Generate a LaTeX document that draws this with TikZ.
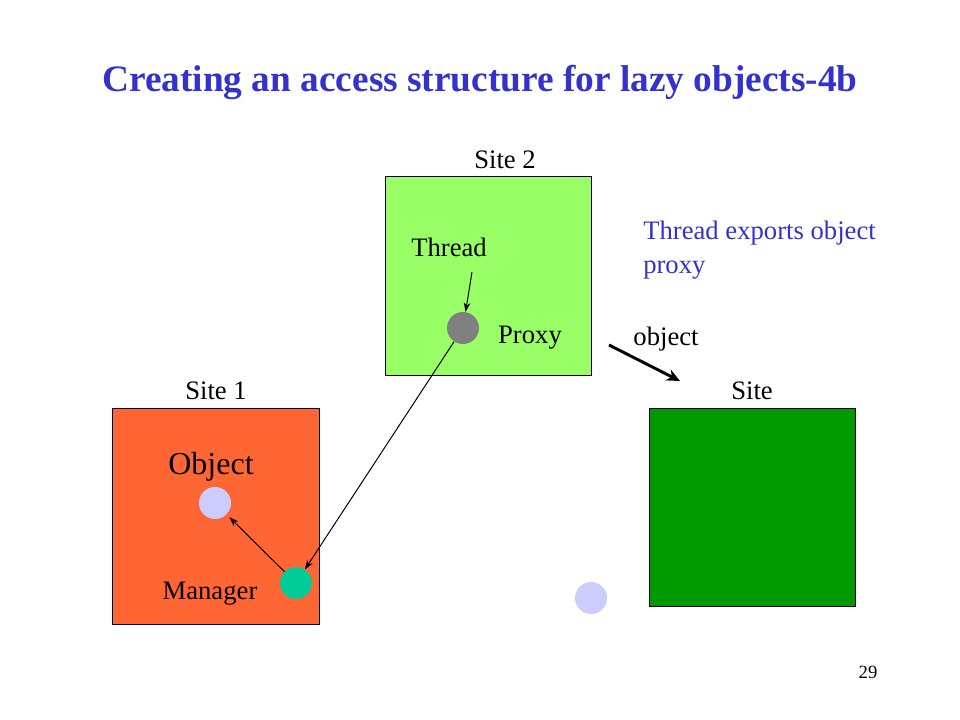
\documentclass[tikz,border=0pt]{standalone}
\usepackage{fontspec}
\setmainfont{Liberation Serif}
\usepackage{xcolor}
\usetikzlibrary{arrows.meta}
\definecolor{titleblue}{RGB}{51,51,204}
\definecolor{siteone}{RGB}{255,102,51}
\definecolor{sitetwo}{RGB}{153,255,102}
\definecolor{sitethree}{RGB}{0,153,0}
\definecolor{lavender}{RGB}{204,204,255}
\definecolor{mgrgreen}{RGB}{0,204,153}
\definecolor{proxygray}{RGB}{128,128,128}

\begin{document}
\begin{tikzpicture}[x=0.75pt, y=-0.75pt, >={Stealth[length=7pt, width=5pt]},
    lbl/.style={font=\fontsize{20}{24}\selectfont, inner sep=0pt},
    dot/.style={circle, inner sep=0pt, minimum size=24pt, draw=none},
    sitebox/.style={draw=black, line width=0.75pt}]
    \useasboundingbox (0,0) rectangle (960,720);
    % Title
    \node[font=\fontsize{28}{34}\selectfont\bfseries, text=titleblue] (title) at (480,82)
        {Creating an access structure for lazy objects-4b};
    % Sites
    \draw[sitebox, fill=sitetwo] (385,177) rectangle (591,375);
    \draw[sitebox, fill=siteone] (112,408) rectangle (319,624);
    \draw[sitebox, fill=sitethree] (649,408) rectangle (855,606);
    \node[lbl] (lsite2) at (505,160) {Site 2};
    \node[lbl] (lsite1) at (216,391) {Site 1};
    \node[lbl] (lsite3) at (752,391) {Site};
    % Site 2 contents
    \node[lbl] (thread) at (449,247) {Thread};
    \node[dot, fill=proxygray] (proxy) at (463,328) {};
    \node[lbl] (lproxy) at (530,338) {Proxy};
    \coordinate (threadtail) at (472,272);
    % Site 1 contents
    \node[lbl, font=\fontsize{24}{28}\selectfont] (lobj) at (211,467) {Object};
    \node[dot, fill=lavender] (obj) at (215,503) {};
    \node[dot, fill=mgrgreen] (mgr) at (296,583) {};
    \node[lbl] (lmgr) at (210,594) {Manager};
    % loose object
    \node[dot, fill=lavender] (obj2) at (591,598) {};
    % Note
    \node[lbl, font=\fontsize{20}{25.5}\selectfont, text=titleblue, align=left, anchor=north west]
        (note) at (643,221) {Thread exports object\\proxy};
    \node[lbl] (lobject) at (666,339) {object};
    \coordinate (movefrom) at (609,345);
    \coordinate (moveto) at (680,381);
    % Arrows
    \draw[->, line width=0.75pt] (threadtail) -- (proxy);
    \draw[->, line width=0.75pt] (proxy) -- (mgr);
    \draw[->, line width=0.75pt, shorten >=3pt] (mgr) -- (obj);
    \draw[-{Stealth[length=10pt, width=9pt]}, line width=2.2pt] (movefrom) -- (moveto);
    % Page number
    \node[font=\fontsize{14}{16}\selectfont] (page) at (868,672) {29};
\end{tikzpicture}
\end{document}
